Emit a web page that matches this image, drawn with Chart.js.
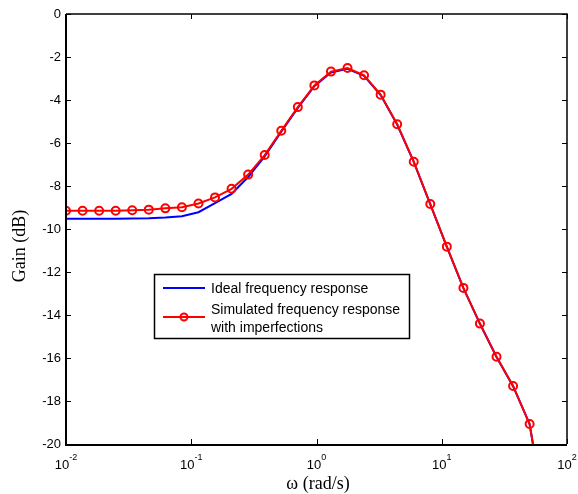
<!DOCTYPE html>
<html>
<head>
<meta charset="utf-8">
<script src="https://cdn.jsdelivr.net/npm/chart.js@4/dist/chart.umd.min.js"></script>
<style>
  html, body { margin: 0; padding: 0; background: #fff; }
  canvas { display: block; }
</style>
</head>
<body>
<canvas id="gainChart" width="578" height="494"></canvas>
<script>
// frequency points (rad/s)
const omega = [0.01, 0.01356, 0.01839, 0.02492, 0.03379, 0.04581, 0.06211, 0.08423, 0.1142, 0.1548,
  0.2099, 0.2846, 0.3859, 0.5232, 0.7094, 0.9616, 1.304, 1.768, 2.397, 3.250,
  4.406, 5.974, 8.100, 10.98, 14.89, 20.18, 27.37, 37.11, 50.31, 68.20];

const idealGain = [-9.52, -9.52, -9.52, -9.52, -9.51, -9.50, -9.47, -9.41, -9.22, -8.80,
  -8.37, -7.58, -6.62, -5.47, -4.37, -3.36, -2.72, -2.55, -2.88, -3.77,
  -5.14, -6.88, -8.85, -10.83, -12.75, -14.41, -15.95, -17.31, -19.08, -23.7];

const simulatedGain = [-9.15, -9.15, -9.15, -9.15, -9.13, -9.10, -9.04, -8.99, -8.81, -8.53,
  -8.13, -7.47, -6.56, -5.43, -4.33, -3.32, -2.68, -2.51, -2.85, -3.75,
  -5.13, -6.87, -8.84, -10.82, -12.74, -14.40, -15.94, -17.30, -19.07, -23.7];

const xTickValues = [0.01, 0.1, 1, 10, 100];
const xTickExponents = ["-2", "-1", "0", "1", "2"];
const yTickValues = [0, -2, -4, -6, -8, -10, -12, -14, -16, -18, -20];

const legendLabels = ["Ideal frequency response", "Simulated frequency response", "with imperfections"];

const sansFont = "'Liberation Sans', Arial, sans-serif";
const serifFont = "'Liberation Serif', 'Times New Roman', serif";

const toPoints = (ys) => omega.map((x, i) => ({ x: x, y: ys[i] }));

// axes box, inward ticks, legend and the text MATLAB style
const framePlugin = {
  id: "frame",
  afterDatasetsDraw(chart) {
    const { ctx, chartArea: a, scales } = chart;
    const L = Math.round(a.left), R = Math.round(a.right);
    const T = Math.round(a.top), B = Math.round(a.bottom);
    ctx.save();
    ctx.strokeStyle = "#000";

    // top and right edges thinner, left and bottom heavier
    ctx.lineWidth = 1.5;
    ctx.beginPath();
    ctx.moveTo(L, T); ctx.lineTo(R, T); ctx.lineTo(R, B);
    ctx.stroke();
    ctx.lineWidth = 2;
    ctx.beginPath();
    ctx.moveTo(L, T); ctx.lineTo(L, B + 1); ctx.lineTo(R, B + 1);
    ctx.stroke();

    ctx.lineWidth = 1;
    ctx.beginPath();
    yTickValues.forEach(v => {
      const y = Math.round(scales.y.getPixelForValue(v)) + 0.5;
      ctx.moveTo(L, y); ctx.lineTo(L + 5, y);
      ctx.moveTo(R, y); ctx.lineTo(R - 5, y);
    });
    xTickValues.forEach(v => {
      const x = Math.round(scales.x.getPixelForValue(v)) + 0.5;
      ctx.moveTo(x, B); ctx.lineTo(x, B - 5);
      ctx.moveTo(x, T); ctx.lineTo(x, T + 5);
    });
    ctx.stroke();

    // legend
    ctx.lineWidth = 1.5;
    ctx.fillStyle = "#fff";
    ctx.fillRect(154.5, 274.5, 255, 64);
    ctx.strokeRect(154.5, 274.5, 255, 64);

    ctx.lineWidth = 2;
    ctx.strokeStyle = "#0000ff";
    ctx.beginPath(); ctx.moveTo(163, 288); ctx.lineTo(205, 288); ctx.stroke();
    ctx.strokeStyle = "#ff0000";
    ctx.beginPath(); ctx.moveTo(163, 317); ctx.lineTo(205, 317); ctx.stroke();
    ctx.beginPath(); ctx.arc(184, 317, 3.5, 0, Math.PI * 2); ctx.stroke();

    ctx.fillStyle = "#000";
    ctx.font = "14px " + sansFont;
    ctx.textAlign = "left";
    ctx.textBaseline = "middle";
    ctx.fillText(legendLabels[0], 211, 289);
    ctx.fillText(legendLabels[1], 211, 310);
    ctx.fillText(legendLabels[2], 211, 328);
    ctx.restore();
  },
  afterDraw(chart) {
    const { ctx, scales } = chart;
    ctx.save();
    ctx.fillStyle = "#000";
    ctx.textBaseline = "alphabetic";
    ctx.textAlign = "left";
    xTickValues.forEach((v, i) => {
      const x = scales.x.getPixelForValue(v);
      ctx.font = "13px " + sansFont;
      const w1 = ctx.measureText("10").width;
      ctx.font = "9px " + sansFont;
      const w2 = ctx.measureText(xTickExponents[i]).width;
      const start = x - (w1 + w2) / 2;
      ctx.font = "13px " + sansFont;
      ctx.fillText("10", start, 469);
      ctx.font = "9px " + sansFont;
      ctx.fillText(xTickExponents[i], start + w1, 460);
    });

    ctx.font = "18px " + serifFont;
    ctx.textAlign = "center";
    ctx.textBaseline = "middle";
    ctx.fillText("\u03c9 (rad/s)", 318, 484);

    ctx.translate(20, 246);
    ctx.rotate(-Math.PI / 2);
    ctx.fillText("Gain (dB)", 0, 0);
    ctx.restore();
  }
};

const ctx = document.getElementById("gainChart").getContext("2d");

new Chart(ctx, {
  type: "line",
  data: {
    datasets: [
      {
        label: legendLabels[0],
        data: toPoints(idealGain),
        order: 1,
        borderColor: "#0000ff",
        borderWidth: 2,
        pointRadius: 0,
        tension: 0,
        fill: false
      },
      {
        label: legendLabels[1] + " " + legendLabels[2],
        data: toPoints(simulatedGain),
        order: 0,
        borderColor: "#ff0000",
        borderWidth: 2,
        pointRadius: 4,
        pointBorderWidth: 2,
        pointBorderColor: "#ff0000",
        pointBackgroundColor: "rgba(0,0,0,0)",
        tension: 0,
        fill: false
      }
    ]
  },
  options: {
    responsive: false,
    animation: false,
    layout: { padding: { top: 14, right: 11, left: 0, bottom: 0 } },
    plugins: {
      legend: { display: false },
      tooltip: { enabled: false }
    },
    scales: {
      x: {
        type: "logarithmic",
        min: 0.01,
        max: 100,
        grid: { display: false, drawTicks: false },
        border: { display: false },
        ticks: { display: false },
        afterFit: (scale) => { scale.height = 50; }
      },
      y: {
        min: -20,
        max: 0,
        grid: { display: false, drawTicks: false },
        border: { display: false },
        ticks: {
          stepSize: 2,
          padding: 5,
          color: "#000",
          font: { family: sansFont, size: 13 }
        },
        afterFit: (scale) => { scale.width = 66; }
      }
    }
  },
  plugins: [framePlugin]
});
</script>
</body>
</html>
